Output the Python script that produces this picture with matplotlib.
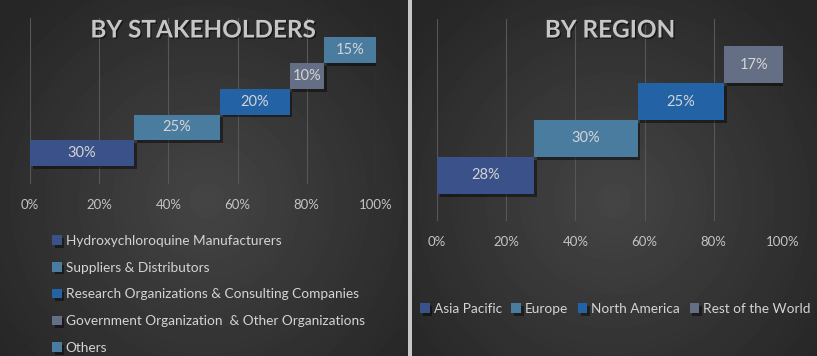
import numpy as np
import matplotlib
matplotlib.use('Agg')
from matplotlib import pyplot as plt
from matplotlib import patheffects as pe

plt.rcParams['font.family'] = ['Lato', 'DejaVu Sans']

# dados
stake_labels = ['Hydroxychloroquine Manufacturers', 'Suppliers & Distributors',
                'Research Organizations & Consulting Companies',
                'Government Organization  & Other Organizations', 'Others']
stake_values = [30, 25, 20, 10, 15]

region_labels = ['Asia Pacific', 'Europe', 'North America', 'Rest of the World']
region_values = [28, 30, 25, 17]

x_ticks = [0, 20, 40, 60, 80, 100]

# cores
stake_colors = ['#3a5189', '#4a7ca0', '#2262a5', '#646e84', '#4a7ca0']
region_colors = ['#3a5189', '#4a7ca0', '#2262a5', '#646e84']
txt_color = '#d4d4d4'
tick_color = '#c4c4c4'

W, H = 817, 356
fig = plt.figure(figsize=(W / 100, H / 100), dpi=100)
fig.patch.set_facecolor('#2c2c2c')

# fundo com gradiente radial
bg = fig.add_axes([0, 0, 1, 1], zorder=-10)
yy, xx = np.mgrid[0:H, 0:W]
img = np.zeros((H, W))
for cx, x0, x1 in [(206, 0, 408), (613, 412, W)]:
    d = np.sqrt(((xx - cx) / 260.0) ** 2 + ((yy - 200) / 260.0) ** 2)
    v = 0.27 - 0.12 * np.clip(d, 0, 1)
    img[:, x0:x1] = v[:, x0:x1]
img[:, 408:412] = 0.78
bg.imshow(img, cmap='gray', vmin=0, vmax=1, aspect='auto', extent=[0, W, H, 0])
bg.set_xlim(0, W)
bg.set_ylim(H, 0)
bg.axis('off')


def px_axes(x0, x1, ytop, ybot):
    return fig.add_axes([x0 / W, 1 - ybot / H, (x1 - x0) / W, (ybot - ytop) / H])


def draw_panel(ax, values, colors, labels, ylim, title, title_y):
    lefts = np.concatenate([[0], np.cumsum(values)[:-1]])
    bars = []
    for i, (v, l, c, lab) in enumerate(zip(values, lefts, colors, labels)):
        b = ax.barh(i, v, left=l, height=1.0, color=c, label=lab, zorder=3)
        b[0].set_path_effects([pe.SimplePatchShadow(offset=(2, -2), shadow_rgbFace='black', alpha=0.45),
                               pe.Normal()])
        ax.text(l + v / 2, i, '%d%%' % v, ha='center', va='center',
                color=txt_color, fontsize=10.5, zorder=4)
        bars.append(b)
    ax.set_xlim(0, 100)
    ax.set_ylim(*ylim)
    ax.set_xticks(x_ticks)
    ax.set_xticklabels(['%d%%' % t for t in x_ticks])
    ax.set_yticks([])
    ax.tick_params(axis='x', length=0, colors=tick_color, labelsize=9.5, pad=11)
    ax.grid(axis='x', color='#575757', linewidth=0.8, zorder=0)
    ax.set_facecolor('none')
    for s in ax.spines.values():
        s.set_visible(False)
    fig.text(ax.get_position().x0 + ax.get_position().width / 2, 1 - title_y / H, title,
             ha='center', va='center', fontsize=17.5, fontweight='bold', color='#c6c6c6',
             path_effects=[pe.withSimplePatchShadow(offset=(1, -1), shadow_rgbFace='black', alpha=0.5)])
    return bars


# painel esquerdo
ax1 = px_axes(30, 376, 18, 184)
bars1 = draw_panel(ax1, stake_values, stake_colors, stake_labels,
                   (-1.2, 5.25), 'BY STAKEHOLDERS', 30)
leg1 = fig.legend(handles=[b for b in bars1], labels=stake_labels,
                  loc='upper left', bbox_to_anchor=(52 / W, 1 - 235 / H),
                  frameon=False, ncol=1, fontsize=9.8, labelcolor=txt_color,
                  handlelength=0.7, handleheight=0.7, handletextpad=0.3,
                  labelspacing=1.08, borderaxespad=0, borderpad=0)

# painel direito
ax2 = px_axes(437, 783, 19, 221)
bars2 = draw_panel(ax2, region_values, region_colors, region_labels,
                   (-1.23, 4.23), 'BY REGION', 30)
leg2 = fig.legend(handles=[b for b in bars2], labels=region_labels,
                  loc='center left', bbox_to_anchor=(420 / W, 1 - 309 / H),
                  frameon=False, ncol=4, fontsize=9.8, labelcolor=txt_color,
                  handlelength=0.7, handleheight=0.7, handletextpad=0.3,
                  columnspacing=0.7, borderaxespad=0, borderpad=0)

fig.savefig('out.png', dpi=100, facecolor=fig.get_facecolor())
